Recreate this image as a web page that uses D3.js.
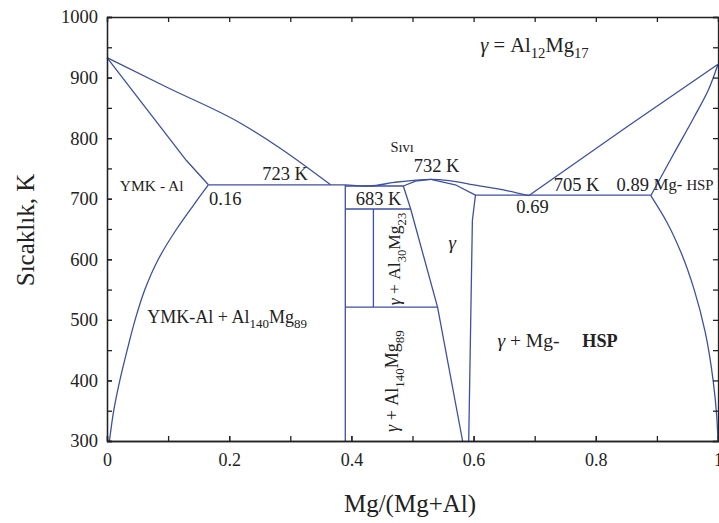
<!DOCTYPE html>
<html>
<head>
<meta charset="utf-8">
<script src="https://cdn.jsdelivr.net/npm/d3@7"></script>
<style>
  body { margin: 0; background: #fff; }
  svg { display: block; font-family: "Liberation Serif", "Times New Roman", serif; }
  .phase { fill: none; stroke: #3d4fa6; stroke-width: 1.3; stroke-linejoin: round; }
  .axis path, .axis line { stroke: #222; stroke-width: 1.3; }
  .axis text { font-family: "Liberation Serif", serif; fill: #222; }
  .lbl { fill: #222; }
</style>
</head>
<body>
<svg id="chart" width="719" height="523"></svg>
<script>
//////////////////// DATA ////////////////////
// [Mg fraction, temperature K]
const liquidusAl = [[0, 933], [0.098, 884], [0.218, 825], [0.284, 783], [0.366, 723]];
const solidusAl = [[0, 933], [0.065, 848], [0.13, 763], [0.166, 723]];
const solvusAl = [[0.166, 723], [0.142, 690], [0.114, 650], [0.084, 600], [0.062, 550],
    [0.046, 500], [0.033, 450], [0.021, 400], [0.011, 350], [0.004, 300]];
const eutectic723 = [[0.166, 723], [0.39, 723]];
const betaLine = [[0.39, 723], [0.39, 300]];
const boxTop = [[0.39, 721], [0.485, 721]];
const line683 = [[0.39, 683], [0.497, 683]];
const rPhaseLine = [[0.436, 683], [0.436, 521]];
const line521 = [[0.39, 521], [0.541, 521]];
const liquidusMid = [[0.39, 723], [0.43, 721], [0.47, 727], [0.53, 732], [0.56, 730],
    [0.6, 723], [0.656, 713], [0.69, 705]];
const gammaLeft = [[0.53, 732], [0.505, 729], [0.485, 721], [0.497, 683], [0.541, 521], [0.582, 300]];
const gammaRight = [[0.53, 732], [0.57, 723], [0.603, 706], [0.598, 664], [0.592, 300]];
const eutectic705 = [[0.603, 706], [0.89, 706]];
const liquidusMg = [[0.69, 705], [0.85, 818], [1, 922]];
const solidusMg = [[0.89, 705], [0.928, 775], [0.961, 835], [0.984, 879], [1, 922]];
const solvusMg = [[0.89, 705], [0.917, 660], [0.94, 610], [0.961, 550], [0.979, 480],
    [0.992, 400], [0.998, 340], [1, 300]];

const curvesAlongX = [liquidusAl, liquidusMid, liquidusMg];
const curvesAlongT = [solvusAl, solidusMg, solvusMg];
const straightCurves = [solidusAl, eutectic723, betaLine, boxTop, line683, rPhaseLine,
    line521, gammaLeft, gammaRight, eutectic705];

// ticks
const xMajorTicks = [0, 0.2, 0.4, 0.6, 0.8, 1];
const xTickLabels = ["0", "0.2", "0.4", "0.6", "0.8", "1"];
const xMinorTicks = d3.range(0, 1.0001, 0.1);
const yMajorTicks = [300, 400, 500, 600, 700, 800, 900, 1000];
const yMinorTicks = d3.range(300, 1001, 50);


//////////////////// SIZES & SCALES ////////////////////
const svg = d3.select("#chart");
const plot = { left: 107, right: 718, top: 17, bottom: 441 };

const xScale = d3.scaleLinear().domain([0, 1]).range([plot.left, plot.right]);
const yScale = d3.scaleLinear().domain([300, 1000]).range([plot.bottom, plot.top]);


//////////////////// CURVES ////////////////////
const lineX = d3.line()
    .x(d => xScale(d[0]))
    .y(d => yScale(d[1]))
    .curve(d3.curveMonotoneX);

const lineT = d3.line()
    .x(d => xScale(d[0]))
    .y(d => yScale(d[1]))
    .curve(d3.curveMonotoneY);

const straightLine = d3.line()
    .x(d => xScale(d[0]))
    .y(d => yScale(d[1]));

const curveGroup = svg.append("g");

curveGroup.selectAll(null)
    .data(curvesAlongX)
    .enter().append("path")
    .attr("class", "phase")
    .attr("d", lineX);

curveGroup.selectAll(null)
    .data(curvesAlongT)
    .enter().append("path")
    .attr("class", "phase")
    .attr("d", lineT);

curveGroup.selectAll(null)
    .data(straightCurves)
    .enter().append("path")
    .attr("class", "phase")
    .attr("d", straightLine);


//////////////////// AXES ////////////////////
// bottom: minor ticks then labelled ticks
svg.append("g").attr("class", "axis")
    .attr("transform", `translate(0, ${plot.bottom})`)
    .call(d3.axisBottom(xScale).tickValues(xMinorTicks).tickSize(-5).tickFormat(""));
svg.append("g").attr("class", "axis")
    .attr("transform", `translate(0, ${plot.bottom})`)
    .call(d3.axisBottom(xScale).tickValues(xMajorTicks).tickSizeInner(-5).tickSizeOuter(0)
        .tickPadding(12).tickFormat((d, i) => xTickLabels[i]))
    .call(g => g.selectAll("text").attr("font-size", 18));

// top
svg.append("g").attr("class", "axis")
    .attr("transform", `translate(0, ${plot.top})`)
    .call(d3.axisTop(xScale).tickValues(xMinorTicks).tickSize(-5).tickFormat(""));

// left
svg.append("g").attr("class", "axis")
    .attr("transform", `translate(${plot.left}, 0)`)
    .call(d3.axisLeft(yScale).tickValues(yMinorTicks).tickSize(-5).tickFormat(""));
svg.append("g").attr("class", "axis")
    .attr("transform", `translate(${plot.left}, 0)`)
    .call(d3.axisLeft(yScale).tickValues(yMajorTicks).tickSizeInner(-5).tickSizeOuter(0)
        .tickPadding(9).tickFormat(d3.format("d")))
    .call(g => g.selectAll("text").attr("font-size", 18.5));

// right
svg.append("g").attr("class", "axis")
    .attr("transform", `translate(${plot.right}, 0)`)
    .call(d3.axisRight(yScale).tickValues(yMinorTicks).tickSize(-5).tickFormat(""));

svg.selectAll(".domain").attr("stroke-width", 1.4);


//////////////////// AXIS TITLES ////////////////////
svg.append("text")
    .attr("class", "lbl")
    .attr("x", 410)
    .attr("y", 512)
    .attr("text-anchor", "middle")
    .attr("font-size", 25)
    .text("Mg/(Mg+Al)");

svg.append("text")
    .attr("class", "lbl")
    .attr("transform", "translate(34, 230) rotate(-90)")
    .attr("text-anchor", "middle")
    .attr("font-size", 25)
    .text("Sıcaklık, K");


//////////////////// ANNOTATIONS ////////////////////
// parts: [text, kind, gap] where kind is "", "i" (italic), "sub", "b" (bold), "s" (small)
function richLabel(parts, xv, tv, size, rotate = false) {
    const px = xScale(xv), py = yScale(tv);
    const t = svg.append("text")
        .attr("class", "lbl")
        .attr("font-size", size)
        .attr("transform", rotate ? `translate(${px}, ${py}) rotate(-90)` : `translate(${px}, ${py})`);
    let shifted = false;
    parts.forEach(([txt, kind, gap]) => {
        const s = t.append("tspan").text(txt);
        if (gap) s.attr("dx", gap);
        if (kind === "sub") {
            s.attr("font-size", size * 0.72);
            if (!shifted) { s.attr("dy", size * 0.3); shifted = true; }
        } else {
            if (shifted) { s.attr("dy", -size * 0.3); shifted = false; }
            if (kind === "i") s.attr("font-style", "italic");
            if (kind === "b") s.attr("font-weight", "bold").attr("font-size", size * 0.93);
            if (kind === "s") s.attr("font-size", size * 0.9);
        }
    });
    return t;
}

richLabel([["γ", "i"], [" = Al", ""], ["12", "sub"], ["Mg", ""], ["17", "sub"]], 0.611, 942, 20.5);
richLabel([["Sıvı", ""]], 0.464, 777, 14.5);
richLabel([["723 K", ""]], 0.254, 731, 18.5);
richLabel([["732 K", ""]], 0.502, 744, 18.5);
richLabel([["683 K", ""]], 0.407, 690, 18.5);
richLabel([["705 K", ""]], 0.731, 713, 18.5);
richLabel([["0.89", ""]], 0.834, 713, 18.5);
richLabel([["0.69", ""]], 0.670, 676, 18.5);
richLabel([["0.16", ""]], 0.167, 690, 18.5);
richLabel([["YMK - Al", ""]], 0.021, 713, 15.5);
richLabel([["Mg- ", ""], ["HSP", "s"]], 0.895, 714, 16.5);
richLabel([["γ", "i"]], 0.559, 617, 19);
richLabel([["YMK-Al + Al", ""], ["140", "sub"], ["Mg", ""], ["89", "sub"]], 0.066, 495, 18);
richLabel([["γ", "i"], [" + Mg- ", ""], ["HSP", "b", 18]], 0.639, 455, 19.5);
richLabel([["γ", "i"], [" + Al", ""], ["30", "sub"], ["Mg", ""], ["23", "sub"]], 0.48, 524, 17.5, true);
richLabel([["γ", "i"], [" + Al", ""], ["140", "sub"], ["Mg", ""], ["89", "sub"]], 0.477, 315, 18, true);
</script>
</body>
</html>
